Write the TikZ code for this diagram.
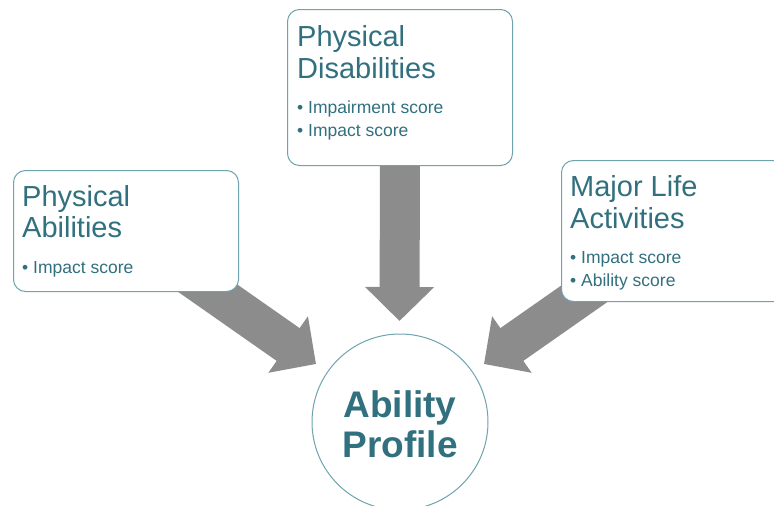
\documentclass[tikz,border=0pt]{standalone}
\usepackage{fontspec}
\setmainfont{Liberation Sans}
\usetikzlibrary{arrows.meta,backgrounds}
\definecolor{textteal}{HTML}{31707E}
\definecolor{edgeteal}{HTML}{6FA3AE}
\definecolor{arrowgray}{HTML}{8C8C8C}
\begin{document}
\begin{tikzpicture}[x=1pt,y=-1pt,
  box/.style={draw=edgeteal, fill=white, rounded corners=12pt, line width=1pt,
    minimum width=225pt, inner sep=0pt, anchor=north west},
  titletext/.style={font=\fontsize{29}{32}\selectfont, text=textteal, anchor=base west, inner sep=0pt},
  bullettext/.style={font=\fontsize{17.5}{21}\selectfont, text=textteal, anchor=base west, inner sep=0pt},
  bigtext/.style={font=\fontsize{37}{40}\selectfont\bfseries, text=textteal, anchor=base, inner sep=0pt},
  bigarrow/.style={draw=arrowgray, line width=40pt, -{Triangle[length=34pt,width=67pt]}}]
\useasboundingbox (0,0) rectangle (774,506);
% boxes
\node[box, minimum height=156pt] (pd) at (287,9) {};
\node[box, minimum height=121pt] (pa) at (13,170) {};
\node[box, minimum height=141pt] (ma) at (561,160) {};
% circle
\node[circle, draw=edgeteal, fill=white, line width=1pt, minimum size=176pt, inner sep=0pt] (ap) at (400,422) {};
% texts
\node[titletext] (pd1) at (297,46) {Physical};
\node[titletext] (pd2) at (297,78) {Disabilities};
\node[bullettext] (pd3) at (297,113) {• Impairment score};
\node[bullettext] (pd4) at (297,136) {• Impact score};
\node[titletext] (pa1) at (22,206) {Physical};
\node[titletext] (pa2) at (22,237) {Abilities};
\node[bullettext] (pa3) at (22,273) {• Impact score};
\node[titletext] (ma1) at (570,196) {Major Life};
\node[titletext] (ma2) at (570,228) {Activities};
\node[bullettext] (ma3) at (570,263) {• Impact score};
\node[bullettext] (ma4) at (570,286) {• Ability score};
\node[bigtext] (ap1) at (400,417) {Ability};
\node[bigtext] (ap2) at (400,457) {Profile};
% arrows
\coordinate (tipT) at (399.5,321);
\coordinate (tipL) at (316,364);
\coordinate (tipR) at (484,364);
\begin{scope}[on background layer]
\draw[bigarrow] ([yshift=10pt]pd.south) -- (tipT);
\draw[bigarrow] (pa.center) -- (tipL);
\draw[bigarrow] (ma.center) -- (tipR);
\end{scope}
\end{tikzpicture}
\end{document}
